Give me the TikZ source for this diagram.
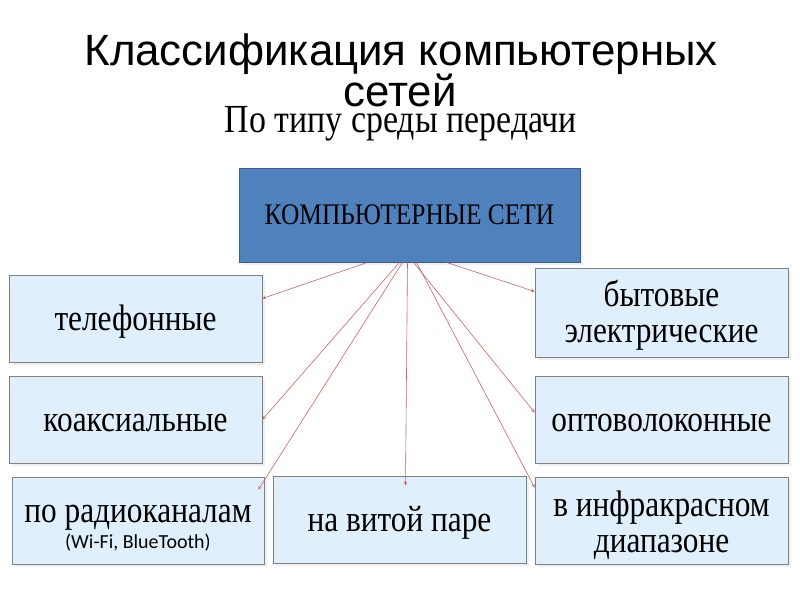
\documentclass[tikz,border=0pt]{standalone}
\usepackage{fontspec}
\setmainfont[FakeStretch=0.85]{Liberation Serif}
\newfontfamily\titlefont{Liberation Sans}
\newfontfamily\notefont{Carlito}
\usetikzlibrary{shadows}

\begin{document}
\begin{tikzpicture}[x=1bp, y=-1bp,
    boxStyle/.style={draw=borderColour, fill=fillColourBox, line width=0.8pt,
        minimum width=253bp, minimum height=87bp, inner sep=2pt,
        drop shadow={shadow xshift=3bp, shadow yshift=-3bp, opacity=0.12}},
    boxText/.style={align=center, yshift=-3bp, font=\fontsize{37}{36}\selectfont},
    arrowLine/.style={draw=arrowColour, line width=0.6pt, ->, >=stealth}]
    \definecolor{borderColour}{HTML}{808080}
    \definecolor{fillColourBox}{HTML}{DFF0FC}
    \definecolor{fillColourMain}{HTML}{4F81BD}
    \definecolor{borderMain}{HTML}{3B5E8A}
    \definecolor{arrowColour}{HTML}{C86464}

    % Frame
    \useasboundingbox (0,0) rectangle (800,600);
    \fill[white] (0,0) rectangle (800,600);

    % Title
    \node[font=\titlefont\fontsize{44}{44}\selectfont, anchor=base]
        (title) at (401,66) {Классификация компьютерных};
    \node[font=\titlefont\fontsize{44}{44}\selectfont, anchor=base]
        (titleEnd) at (400,107) {сетей};
    \node[font=\fontsize{40}{40}\selectfont, anchor=base] (subtitle) at (401,133)
        {По типу среды передачи};

    % Main box
    \node[draw=borderMain, fill=fillColourMain, line width=0.8pt,
        minimum width=341bp, minimum height=94bp,
        font=\fontsize{30}{30}\selectfont,
        drop shadow={shadow xshift=3bp, shadow yshift=-3bp, opacity=0.12}]
        (main) at (409.5,215) {КОМПЬЮТЕРНЫЕ СЕТИ};

    % Left column
    \node[boxStyle, label={[boxText]center:телефонные}] (tel) at (135.5,318.5) {};
    \node[boxStyle, label={[boxText]center:коаксиальные}] (koax) at (135.5,419.5) {};
    \node[boxStyle, minimum width=252bp, label={[boxText, yshift=-5bp]center:{по радиоканалам\\[-10pt]
        {\notefont\fontsize{20}{22}\selectfont (Wi-Fi, BlueTooth)}}}] (radio) at (138,520.5) {};

    % Middle
    \node[boxStyle, label={[boxText]center:на витой паре}] (vit) at (399.5,519.5) {};

    % Right column
    \node[boxStyle, minimum height=89bp, label={[boxText]center:{бытовые\\электрические}}]
        (byt) at (661.5,312.5) {};
    \node[boxStyle, label={[boxText]center:оптоволоконные}] (opto) at (661.5,419.5) {};
    \node[boxStyle, label={[boxText, yshift=-2bp]center:{в инфракрасном\\диапазоне}}]
        (ir) at (661.5,520.5) {};

    % Connectors
    \draw[arrowLine] ([xshift=-42bp]main.south) -- ([yshift=20bp]tel.east);
    \draw[arrowLine] ([xshift=-10bp]main.south) -- (koax.east);
    \draw[arrowLine] ([xshift=-7bp]main.south) -- ([xshift=-6bp,yshift=-13bp]radio.north east);
    \draw[arrowLine] ([xshift=-2bp]main.south) -- ([xshift=6bp,yshift=-10bp]vit.north);
    \draw[arrowLine] ([xshift=4bp]main.south) -- ([yshift=7bp]opto.west);
    \draw[arrowLine] ([xshift=7bp]main.south) -- ([yshift=-11bp]ir.north west);
    \draw[arrowLine] ([xshift=37bp]main.south) -- ([yshift=21bp]byt.west);

\end{tikzpicture}
\end{document}
